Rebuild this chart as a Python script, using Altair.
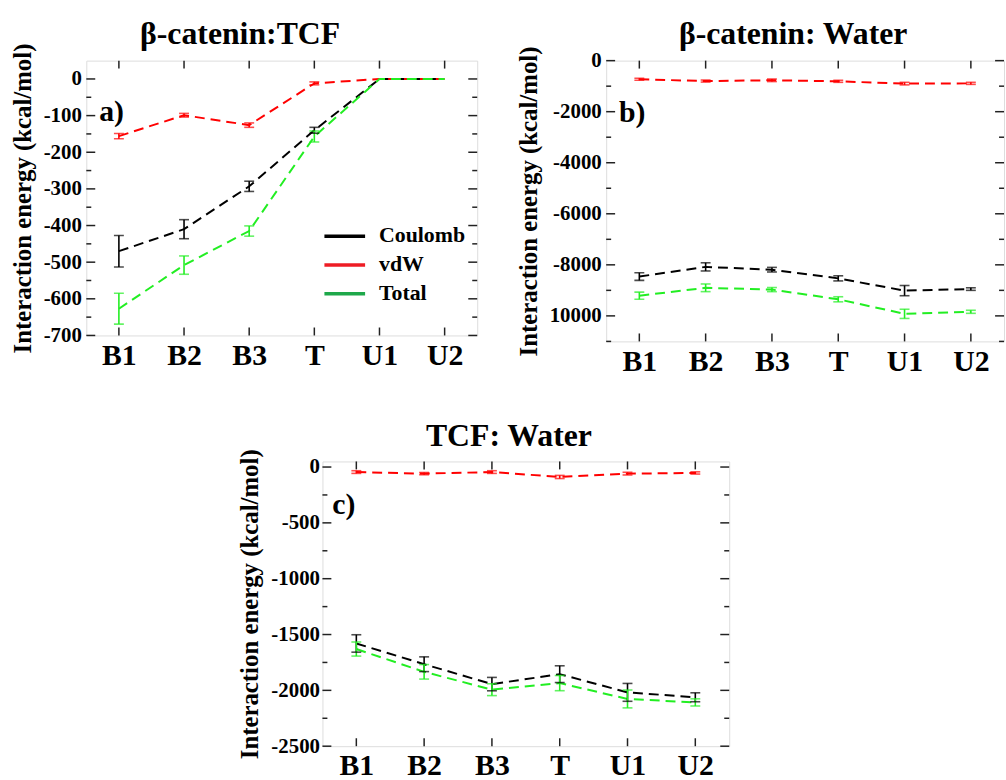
import altair as alt
import pandas as pd

# ---------------- data ----------------
categories = ["B1", "B2", "B3", "T", "U1", "U2"]
series_names = ["Coulomb", "vdW", "Total"]
series_colors = ["#000000", "#ff0000", "#22ee22"]
legend_colors = ["#000000", "#ee1c24", "#1ea84a"]

# panel a) beta-catenin : TCF
a_coul = [-470, -410, -293, -140, 0, 0]
a_coul_err = [43, 26, 14, 8, 0, 0]
a_vdw = [-156, -99, -126, -12, 0, 0]
a_vdw_err = [7, 5, 6, 4, 0, 0]
a_tot = [-627, -508, -415, -157, 0, 0]
a_tot_err = [42, 25, 14, 15, 0, 0]

# panel b) beta-catenin : Water
b_coul = [-8460, -8080, -8190, -8530, -9010, -8950]
b_coul_err = [150, 160, 90, 100, 200, 50]
b_vdw = [-730, -800, -770, -810, -900, -890]
b_vdw_err = [40, 40, 50, 40, 50, 40]
b_tot = [-9210, -8900, -8970, -9350, -9920, -9840]
b_tot_err = [140, 150, 80, 100, 180, 60]

# panel c) TCF : Water
c_coul = [-1580, -1766, -1944, -1855, -2018, -2062]
c_coul_err = [78, 66, 60, 75, 80, 40]
c_vdw = [-45, -59, -45, -89, -59, -53]
c_vdw_err = [12, 10, 12, 14, 12, 10]
c_tot = [-1630, -1834, -1994, -1935, -2077, -2108]
c_tot_err = [63, 65, 53, 68, 80, 32]

# axis ticks
a_major = [-700, -600, -500, -400, -300, -200, -100, 0]
a_minor = [-650, -550, -450, -350, -250, -150, -50]
b_major = [-10000, -8000, -6000, -4000, -2000, 0]
b_minor = [-11000, -9000, -7000, -5000, -3000, -1000]
c_major = [-2500, -2000, -1500, -1000, -500, 0]
c_minor = [-2250, -1750, -1250, -750, -250]

FONT = "Liberation Serif"
YTITLE = "Interaction energy (kcal/mol)"


def long_df(coul, coul_e, vdw, vdw_e, tot, tot_e):
    rows = []
    for name, vals, errs in zip(series_names, [coul, vdw, tot], [coul_e, vdw_e, tot_e]):
        for i, c in enumerate(categories):
            rows.append({"cat": c, "series": name, "order": series_names.index(name),
                         "value": vals[i], "err": errs[i],
                         "lo": vals[i] - errs[i], "hi": vals[i] + errs[i]})
    return pd.DataFrame(rows)


def panel(df, title, label, ydomain, major, minor, W, H, label_pos, title_offset, title_dx,
          legend=False, label_expr=None, label_pad=5):
    if label_expr is None:
        label_expr = "(datum.value < 0 ? '-' : '') + abs(datum.value)"
    xenc = alt.X("cat:N", sort=categories, scale=alt.Scale(type="point", padding=0.5),
                 axis=alt.Axis(title=None, labelAngle=0, ticks=False, tickSize=0, domain=False,
                               labelFont=FONT, labelFontSize=30, labelFontWeight="bold",
                               labelColor="black", labelPadding=5, grid=False))
    yscale = alt.Scale(domain=ydomain, nice=False, zero=False)
    yaxis = alt.Axis(title=YTITLE, values=major, ticks=False, tickSize=0, domain=False,
                     grid=False, labelFont=FONT, labelFontSize=21, labelFontWeight="bold",
                     labelColor="black", labelPadding=label_pad, labelExpr=label_expr,
                     titleFont=FONT, titleFontSize=25, titleFontWeight="bold",
                     titleColor="black", titlePadding=8)
    yenc = alt.Y("value:Q", scale=yscale, axis=yaxis)
    cenc = alt.Color("series:N", legend=None,
                     scale=alt.Scale(domain=series_names, range=series_colors))

    base = alt.Chart(df)
    lines = base.mark_line(strokeDash=[10, 6], strokeWidth=2).encode(
        x=xenc, y=yenc, color=cenc, order=alt.Order("order:Q"))
    bars = base.transform_filter("datum.err > 0").mark_rule(strokeWidth=1.6).encode(
        x=xenc, y=alt.Y("lo:Q", scale=yscale, axis=yaxis), y2="hi:Q", color=cenc)
    caps_lo = base.transform_filter("datum.err > 0").mark_tick(size=10, thickness=1.6).encode(
        x=xenc, y=alt.Y("lo:Q", scale=yscale, axis=yaxis), color=cenc)
    caps_hi = base.transform_filter("datum.err > 0").mark_tick(size=10, thickness=1.6).encode(
        x=xenc, y=alt.Y("hi:Q", scale=yscale, axis=yaxis), color=cenc)

    maj = alt.Chart(pd.DataFrame({"value": major}))
    mnr = alt.Chart(pd.DataFrame({"value": minor}))
    layers = []
    for src, L in [(maj, 9), (mnr, 5)]:
        layers.append(src.mark_rule(color="#222", strokeWidth=1.5).encode(
            y=yenc, x=alt.value(0), x2=alt.value(L)))
        layers.append(src.mark_rule(color="#222", strokeWidth=1.5).encode(
            y=yenc, x=alt.value(W), x2=alt.value(W - L)))
    cats = alt.Chart(pd.DataFrame({"cat": categories}))
    layers.append(cats.mark_rule(color="#222", strokeWidth=1.5).encode(
        x=xenc, y=alt.value(H), y2=alt.value(H - 8)))
    layers.append(cats.mark_rule(color="#222", strokeWidth=1.5).encode(
        x=xenc, y=alt.value(0), y2=alt.value(8)))

    layers += [lines, bars, caps_lo, caps_hi]

    one = alt.Chart(pd.DataFrame({"t": [label]}))
    layers.append(one.mark_text(
        align="left", baseline="alphabetic", font=FONT, fontSize=30, fontWeight="bold",
        color="black").encode(x=alt.value(label_pos[0]), y=alt.value(label_pos[1]),
                              text="t:N"))

    if legend:
        for i, (nm, col) in enumerate(zip(series_names, legend_colors)):
            row = alt.Chart(pd.DataFrame({"t": [nm]}))
            ypix = 176 + 29 * i
            layers.append(row.mark_rule(color=col, strokeWidth=3.5).encode(
                x=alt.value(240), x2=alt.value(281), y=alt.value(ypix + 1)))
            layers.append(row.mark_text(
                align="left", baseline="middle", font=FONT, fontSize=22, fontWeight="bold",
                color="black").encode(x=alt.value(295), y=alt.value(ypix), text="t:N"))

    ch = alt.layer(*layers).properties(
        width=W, height=H,
        title=alt.TitleParams(title, font=FONT, fontSize=32, fontWeight="bold",
                              color="black", offset=title_offset, anchor="middle",
                              frame="group", dx=title_dx))
    return ch


da = long_df(a_coul, a_coul_err, a_vdw, a_vdw_err, a_tot, a_tot_err)
db = long_df(b_coul, b_coul_err, b_vdw, b_vdw_err, b_tot, b_tot_err)
dc = long_df(c_coul, c_coul_err, c_vdw, c_vdw_err, c_tot, c_tot_err)

pa = panel(da, "β-catenin:TCF", "a)", [-700, 50], a_major, a_minor, 394, 277,
           (13, 61), -8, -42, legend=True)
pb = panel(db, "β-catenin: Water", "b)", [-11000, 0], b_major, b_minor, 401, 283,
           (13, 62), -5, -12,
           label_expr="datum.value == -10000 ? '10000' : (datum.value < 0 ? '-' : '') + abs(datum.value)")
pc = panel(dc, "TCF: Water", "c)", [-2500, 50], c_major, c_minor, 410, 287,
           (10, 53), -4, -17, label_pad=3)

spacer = alt.Chart(pd.DataFrame({"v": [0]})).mark_point(opacity=0).encode(
    x=alt.value(0), y=alt.value(0)).properties(
    width=151, height=10, view=alt.ViewBackground(stroke="transparent"))

top = alt.hconcat(pa, pb, spacing=36)
bottom = alt.hconcat(spacer, pc, spacing=0)

chart = alt.vconcat(top, bottom, spacing=42).properties(
    padding={"left": 10, "top": 14, "right": 0, "bottom": 0}
).configure_view(stroke="#222", strokeWidth=2).configure(background="white")

chart.save("out.html", embed_options={"renderer": "svg", "actions": False})
